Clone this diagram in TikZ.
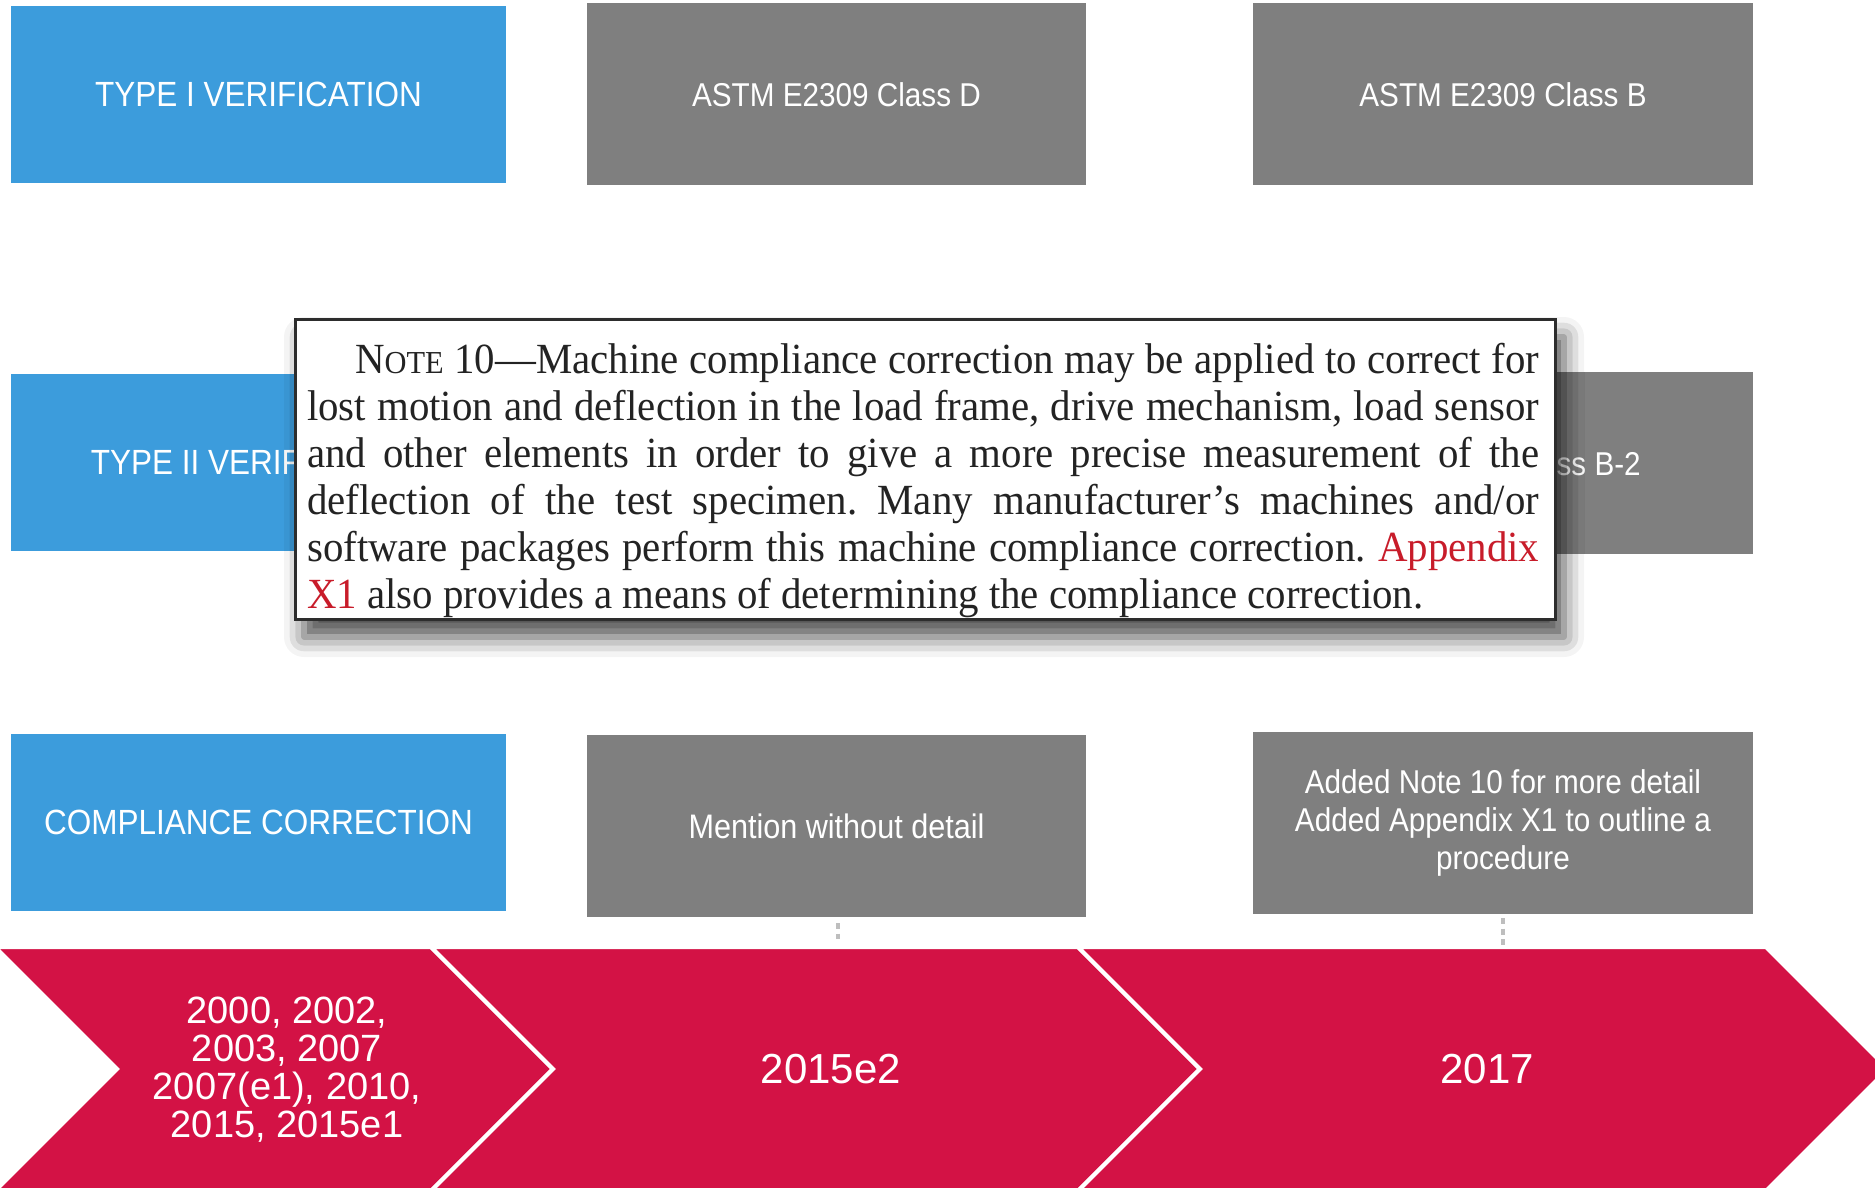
\documentclass[tikz,border=0pt]{standalone}
\usepackage{fontspec}
\setmainfont{Liberation Serif}
\newfontfamily\notefont[FakeStretch=0.95]{Liberation Serif}
\newfontfamily\labelsf[FakeStretch=0.9]{Liberation Sans}
\newfontfamily\yearsf{Liberation Sans}
\usetikzlibrary{shadows.blur}
\frenchspacing

\definecolor{boxblue}{RGB}{60,156,220}
\definecolor{boxgray}{RGB}{127,127,127}
\definecolor{chevred}{RGB}{211,18,69}
\definecolor{notered}{RGB}{200,28,42}
\definecolor{noteframe}{RGB}{45,45,45}
\definecolor{notetext}{RGB}{35,35,35}
\definecolor{linkgray}{RGB}{190,190,190}

\begin{document}
\begin{tikzpicture}[x=1pt,y=-1pt,
  bluebox/.style={fill=boxblue, text=white, inner sep=0pt,
    minimum width=495pt, minimum height=177pt, align=center,
    font=\labelsf\fontsize{35}{40}\selectfont},
  graybox/.style={fill=boxgray, text=white, inner sep=0pt,
    minimum width=500pt, minimum height=182pt, align=center,
    font=\labelsf\fontsize{33}{38}\selectfont},
  chevron/.style={fill=chevred, draw=white, line width=4pt},
  yearlbl/.style={text=white, inner sep=0pt, align=center},
  link/.style={draw=linkgray, line width=3.5pt, dash pattern=on 6pt off 4.5pt},
  notebox/.style={draw=noteframe, line width=3pt, fill=white, inner sep=0pt,
    minimum width=1260pt, minimum height=300pt,
    blur shadow={shadow xshift=9pt, shadow yshift=-18pt,
      shadow blur radius=20pt, shadow opacity=70}},
]
\useasboundingbox (0,0) rectangle (1875,1188);

% row headers
\node[bluebox] (t1) at (258.5,94.5) {TYPE I VERIFICATION};
\node[bluebox] (t2) at (258.5,462.5) {TYPE II VERIFICATION};
\node[bluebox] (cc) at (258.5,822.5) {COMPLIANCE CORRECTION};

% edition details
\node[graybox, minimum width=499pt] (d1) at (836.5,94.5) {ASTM E2309 Class D};
\node[graybox] (b1) at (1503,94.5) {ASTM E2309 Class B};
\node[graybox] (b2) at (1503,463) {};
\node[anchor=east, inner sep=0pt, text=white,
  font=\labelsf\fontsize{33}{38}\selectfont] (b2lbl) at (1641,464) {ASTM E2309 Class B-2};
\node[graybox, minimum width=499pt, font=\labelsf\fontsize{34}{38}\selectfont] (m2) at (836.5,826) {Mention without detail};
\node[graybox] (m3) at (1503,823) {Added Note 10 for more detail\\Added Appendix X1 to outline a\\procedure};

% timeline chevrons
\path[chevron] (-5,947) -- (431,947) -- (553,1069) -- (431,1191) -- (-5,1191) -- (117,1069) -- cycle;
\path[chevron] (431,947) -- (1078,947) -- (1200,1069) -- (1078,1191) -- (431,1191) -- (553,1069) -- cycle;
\path[chevron] (1078,947) -- (1766,947) -- (1888,1069) -- (1766,1191) -- (1078,1191) -- (1200,1069) -- cycle;

\node[yearlbl, font=\yearsf\fontsize{38}{38}\selectfont] (y1) at (287,1070)
  {2000, 2002,\\2003, 2007\\2007(e1), 2010,\\2015, 2015e1};
\node[yearlbl, font=\yearsf\fontsize{42}{46}\selectfont] (y2) at (831,1069) {2015e2};
\node[yearlbl, font=\yearsf\fontsize{42}{46}\selectfont] (y3) at (1487,1069) {2017};

% dotted links from details to the timeline
\coordinate (e2top) at (838,949);
\coordinate (e3top) at (1503,949);
\draw[link, shorten <=6pt, shorten >=10pt] (m2.south -| e2top) -- (e2top);
\draw[link, shorten <=4pt, shorten >=4pt] (m3.south) -- (e3top);

% quoted note
\node[notebox] (note) at (925,469) {};
\node[anchor=north west, inner sep=0pt, align=left, text=notetext,
  font=\notefont\fontsize{43}{47}\selectfont] (notetxt) at ([xshift=13.5pt,yshift=-26pt]note.north west)
{\makebox[1232pt][s]{\hspace*{48pt}N{\fontsize{32}{32}\selectfont OTE} 10—Machine compliance correction may be applied to correct for}\\
 \makebox[1232pt][s]{lost motion and deflection in the load frame, drive mechanism, load sensor}\\
 \makebox[1232pt][s]{and other elements in order to give a more precise measurement of the}\\
 \makebox[1232pt][s]{deflection of the test specimen. Many manufacturer’s machines and/or}\\
 \makebox[1232pt][s]{software packages perform this machine compliance correction. \textcolor{notered}{Appendix}}\\
 \textcolor{notered}{X1} also provides a means of determining the compliance correction.};
\end{tikzpicture}
\end{document}
